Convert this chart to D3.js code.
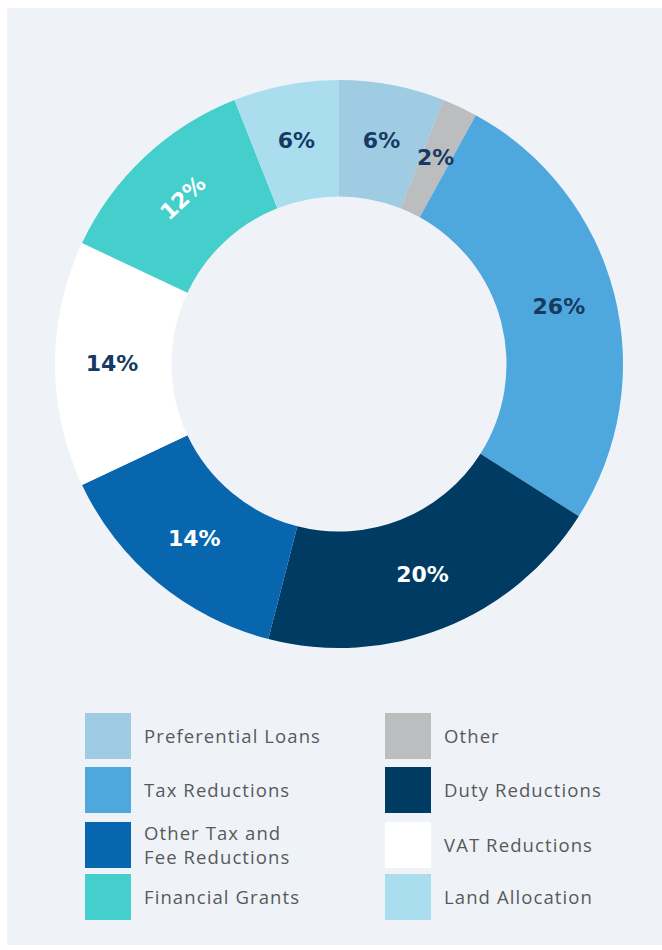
<!DOCTYPE html>
<html>
<head>
<meta charset="utf-8">
<script src="https://cdn.jsdelivr.net/npm/d3@7"></script>
<style>
  html, body { margin: 0; padding: 0; background: #ffffff; }
  svg { display: block; }
</style>
</head>
<body>
<svg id="chart" width="662" height="950"></svg>
<script>
// Data (clockwise from 12 o'clock)
const categories = ["Preferential Loans", "Other", "Tax Reductions", "Duty Reductions",
                    "Other Tax and Fee Reductions", "VAT Reductions", "Financial Grants", "Land Allocation"];
const values = [6, 2, 26, 20, 14, 14, 12, 6];
const valueLabels = ["6%", "2%", "26%", "20%", "14%", "14%", "12%", "6%"];
const colors = ["#9fcce2", "#bbbdbf", "#4fa8dd", "#003b63", "#0866af", "#ffffff", "#44cfcc", "#aadeef"];
const labelColors = ["#163a63", "#163a63", "#163a63", "#ffffff", "#ffffff", "#163a63", "#ffffff", "#163a63"];
const rotateLabel = [false, false, false, false, false, false, true, false];

// Legend layout (order as in reference, two columns)
const legendLeft = [
  {name: "Preferential Loans", lines: ["Preferential Loans"]},
  {name: "Tax Reductions", lines: ["Tax Reductions"]},
  {name: "Other Tax and Fee Reductions", lines: ["Other Tax and", "Fee Reductions"]},
  {name: "Financial Grants", lines: ["Financial Grants"]}
];
const legendRight = [
  {name: "Other", lines: ["Other"]},
  {name: "Duty Reductions", lines: ["Duty Reductions"]},
  {name: "VAT Reductions", lines: ["VAT Reductions"]},
  {name: "Land Allocation", lines: ["Land Allocation"]}
];

const svg = d3.select("#chart");
svg.append("rect").attr("x", 7).attr("y", 8).attr("width", 655).attr("height", 937).attr("fill", "#eff3f8");

const cx = 339, cy = 364, outerR = 284, innerR = 167.5, labelR = 227;
const color = d3.scaleOrdinal().domain(categories).range(colors);

const data = categories.map((c, i) => ({name: c, value: values[i], label: valueLabels[i], lc: labelColors[i], rot: rotateLabel[i]}));
const pie = d3.pie().value(d => d.value).sort(null);
const arcs = pie(data);
const arc = d3.arc().innerRadius(innerR).outerRadius(outerR);
const labelArc = d3.arc().innerRadius(labelR).outerRadius(labelR);

const g = svg.append("g").attr("transform", `translate(${cx},${cy})`);
g.selectAll("path").data(arcs).join("path")
  .attr("d", arc)
  .attr("fill", d => color(d.data.name));

g.selectAll("text").data(arcs).join("text")
  .attr("transform", d => {
    const [x, y] = labelArc.centroid(d);
    const a = (d.startAngle + d.endAngle) / 2 * 180 / Math.PI;
    return `translate(${x},${y})` + (d.data.rot ? ` rotate(${a - 360})` : "");
  })
  .attr("text-anchor", "middle")
  .attr("dy", "0.3em")
  .attr("font-family", "'DejaVu Sans', sans-serif")
  .attr("font-weight", 700)
  .attr("font-size", 22)
  .attr("fill", d => d.data.lc)
  .text(d => d.data.label);

function drawLegend(items, x0) {
  const rowsY = [713, 767, 822, 874];
  items.forEach((it, i) => {
    const y = rowsY[i];
    svg.append("rect").attr("x", x0).attr("y", y).attr("width", 46).attr("height", 46)
      .attr("fill", color(it.name));
    const t = svg.append("text")
      .attr("x", x0 + 59)
      .attr("font-family", "'Open Sans', sans-serif")
      .attr("font-size", 18.5)
      .attr("letter-spacing", 1.1)
      .attr("fill", "#58595b");
    if (it.lines.length === 1) {
      t.append("tspan").attr("x", x0 + 59).attr("y", y + 30).text(it.lines[0]);
    } else {
      t.append("tspan").attr("x", x0 + 59).attr("y", y + 18).text(it.lines[0]);
      t.append("tspan").attr("x", x0 + 59).attr("y", y + 42).text(it.lines[1]);
    }
  });
}
drawLegend(legendLeft, 85);
drawLegend(legendRight, 385);
</script>
</body>
</html>
